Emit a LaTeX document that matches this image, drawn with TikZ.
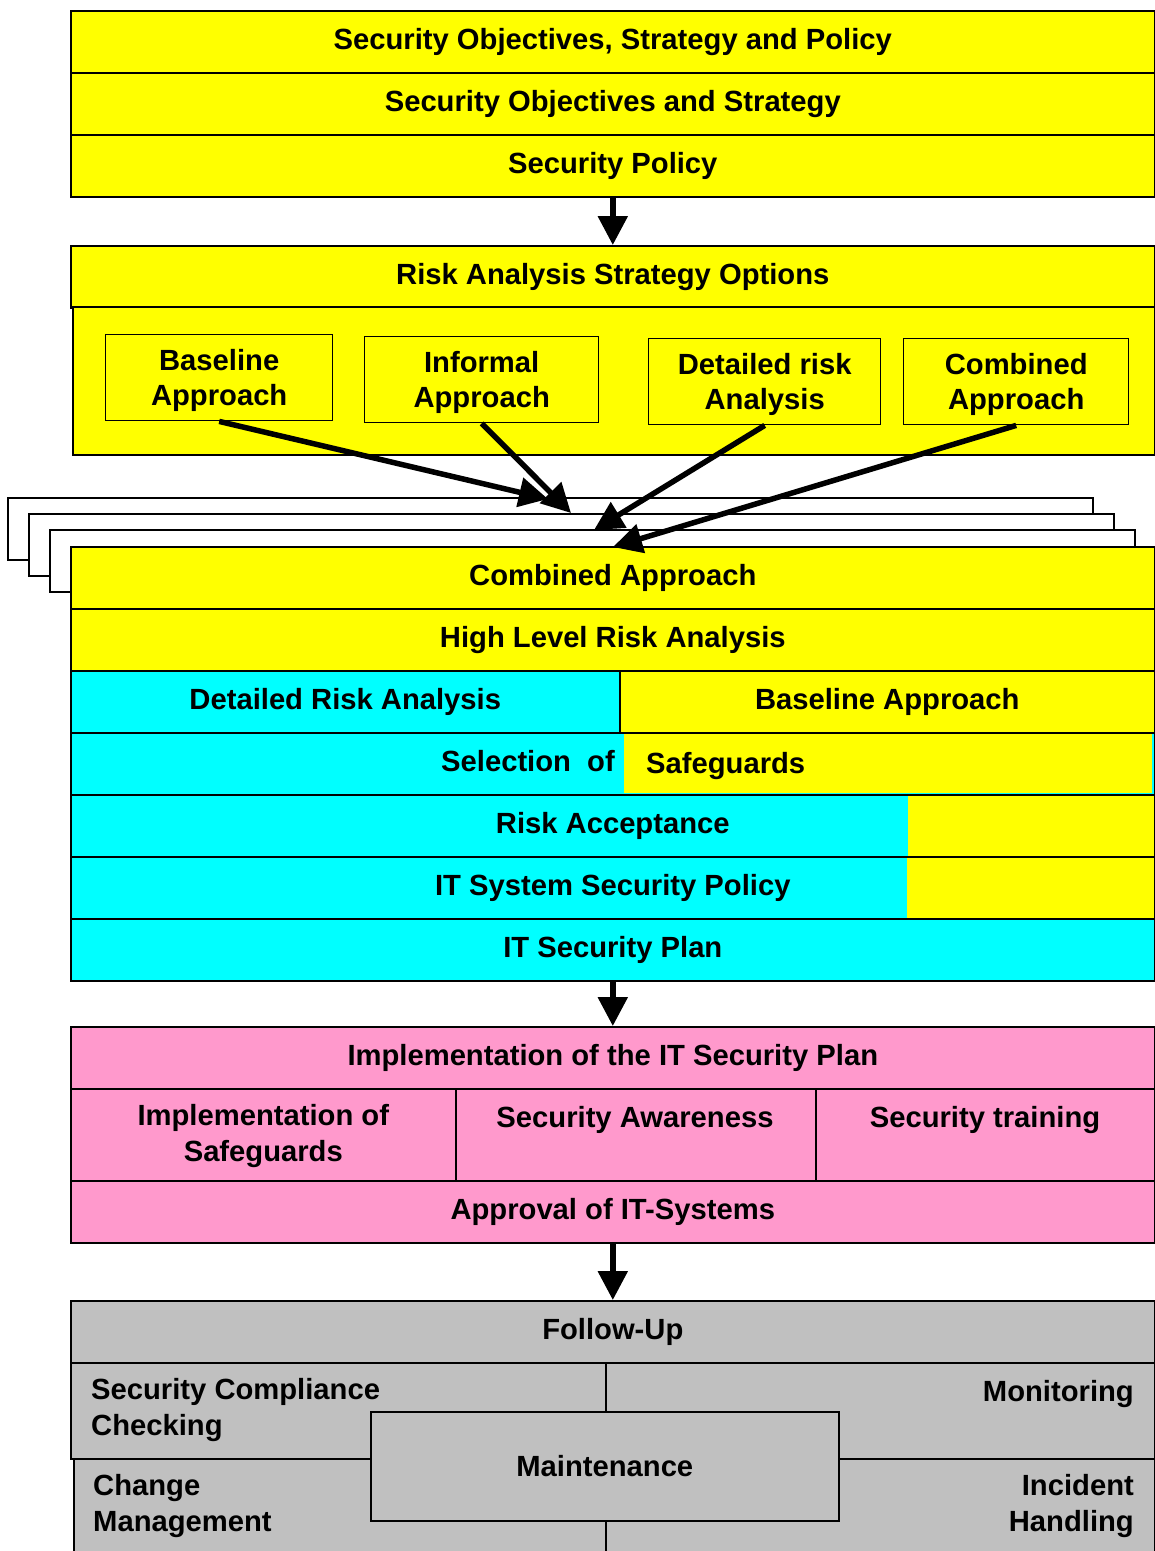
\documentclass[tikz,border=0pt]{standalone}
\usepackage{fontspec}
\setmainfont{Liberation Sans}
\usetikzlibrary{arrows.meta}
\definecolor{yel}{RGB}{255,255,0}
\definecolor{cya}{RGB}{0,255,255}
\definecolor{pnk}{RGB}{255,153,204}
\definecolor{gry}{RGB}{192,192,192}

\begin{document}
\begin{tikzpicture}[x=1pt,y=1pt,
  every node/.style={font=\fontsize{29.2}{36}\selectfont\bfseries, inner sep=0pt},
  cell/.style={draw, line width=1.6pt, anchor=north west, inner sep=0pt},
  row/.style={cell, minimum width=1084pt, minimum height=62pt},
  subbox/.style={draw, line width=1.4pt, fill=yel, anchor=north west, minimum height=86pt},
  subtext/.style={align=center, font=\fontsize{29.2}{35}\selectfont\bfseries},
  frame/.style={draw, line width=1.6pt, fill=white},
  conn/.style={line width=5.5pt, -{Triangle[length=29pt,width=29pt]}},
]
\useasboundingbox (0,0) rectangle (1155,-1551);

% --- objectives, strategy and policy
\node[row, fill=yel] (objpol) at (70,-10) {Security Objectives, Strategy and Policy};
\node[row, fill=yel] (objstr) at (70,-72) {Security Objectives and Strategy};
\node[row, fill=yel] (policy) at (70,-134) {Security Policy};

% --- risk analysis strategy options
\node[row, fill=yel] (riskhead) at (70,-245) {Risk Analysis Strategy Options};
\node[cell, fill=yel, minimum width=1082pt, minimum height=148pt] (riskbody) at (72,-306) {};
\node[subbox, minimum width=227pt] (baseline) at (105,-334) {};
\node[subbox, minimum width=234pt] (informal) at (364,-336) {};
\node[subbox, minimum width=232pt] (detailed) at (648,-338) {};
\node[subbox, minimum width=225pt] (combined) at (903,-338) {};
\node[subtext] (baselinetxt) at ([yshift=-3pt]baseline.center) {Baseline\\Approach};
\node[subtext] (informaltxt) at ([yshift=-3pt]informal.center) {Informal\\Approach};
\node[subtext] (detailedtxt) at ([yshift=-3pt]detailed.center) {Detailed risk\\Analysis};
\node[subtext] (combinedtxt) at ([yshift=-3pt]combined.center) {Combined\\Approach};

% --- stacked sheets behind the combined approach
\draw[frame] (8,-498) rectangle (1093,-560);
\draw[frame] (29,-514) rectangle (1114,-576);
\draw[frame] (50,-530) rectangle (1135,-592);

% --- combined approach
\node[row, fill=yel] (combhead) at (70,-546) {Combined Approach};
\node[row, fill=yel] (hlra) at (70,-608) {High Level Risk Analysis};
\node[cell, fill=cya, minimum width=549pt, minimum height=62pt] (dra) at (70,-670) {Detailed Risk Analysis};
\node[cell, fill=yel, minimum width=535pt, minimum height=62pt] (bla) at (619,-670) {Baseline Approach};

\fill[cya] (70,-732) rectangle (1154,-794);
\fill[yel] (624,-732.8) rectangle (1152,-793.2);
\node[row] (selrow) at (70,-732) {};
\node[anchor=base east] (selof) at (615,-771) {Selection\ \ of};
\node[anchor=base west] (safeg) at (646,-773) {Safeguards};

\fill[cya] (70,-794) rectangle (1154,-856);
\fill[yel] (908,-794) rectangle (1154,-856);
\node[row] (riskacc) at (70,-794) {Risk Acceptance};

\fill[cya] (70,-856) rectangle (1154,-918);
\fill[yel] (907,-856) rectangle (1154,-918);
\node[row] (syspol) at (70,-856) {IT System Security Policy};

\node[row, fill=cya] (plan) at (70,-918) {IT Security Plan};

% --- implementation
\node[row, fill=pnk] (impl) at (70,-1026) {Implementation of the IT Security Plan};
\node[cell, fill=pnk, minimum width=385pt, minimum height=92pt] (implsafe) at (70,-1088) {};
\node[cell, fill=pnk, minimum width=360pt, minimum height=92pt] (aware) at (455,-1088) {};
\node[cell, fill=pnk, minimum width=339pt, minimum height=92pt] (train) at (815,-1088) {};
\node[align=center] (implsafetxt) at ([yshift=-1pt]implsafe.center) {Implementation of\\Safeguards};
\node (awaretxt) at (635,-1120) {Security Awareness};
\node (traintxt) at (985,-1120) {Security training};
\node[row, fill=pnk] (approval) at (70,-1180) {Approval of IT-Systems};

% --- follow-up
\node[row, fill=gry] (follow) at (70,-1300) {Follow-Up};
\node[cell, fill=gry, minimum width=535pt, minimum height=96pt] (scc) at (70,-1362) {};
\node[cell, fill=gry, minimum width=549pt, minimum height=96pt] (mon) at (605,-1362) {};
\node[cell, fill=gry, minimum width=532pt, minimum height=120pt] (chg) at (73,-1458) {};
\node[cell, fill=gry, minimum width=549pt, minimum height=120pt] (inc) at (605,-1458) {};
\node[cell, fill=gry, minimum width=468pt, minimum height=109pt] (maint) at (370,-1411) {Maintenance};
\node[anchor=north west, align=left] (scctxt) at (91,-1378) {Security Compliance\\Checking};
\node[anchor=east] (montxt) at (1134,-1394) {Monitoring};
\node[anchor=north west, align=left] (chgtxt) at (93,-1474) {Change\\Management};
\node[anchor=north east, align=right] (inctxt) at (1134,-1474) {Incident\\Handling};

% --- connectors
\draw[conn] (policy.south) -- (riskhead.north);
\draw[conn] (plan.south) -- (impl.north);
\draw[conn] (approval.south) -- (follow.north);

\coordinate (tipA) at (548,-499);
\coordinate (tipB) at (571,-513);
\coordinate (tipC) at (594,-530);
\coordinate (tipD) at (613,-547);
\draw[conn] (baseline.south) -- (tipA);
\draw[conn] (informal.south) -- (tipB);
\draw[conn] (detailed.south) -- (tipC);
\draw[conn] (combined.south) -- (tipD);
\end{tikzpicture}
\end{document}
